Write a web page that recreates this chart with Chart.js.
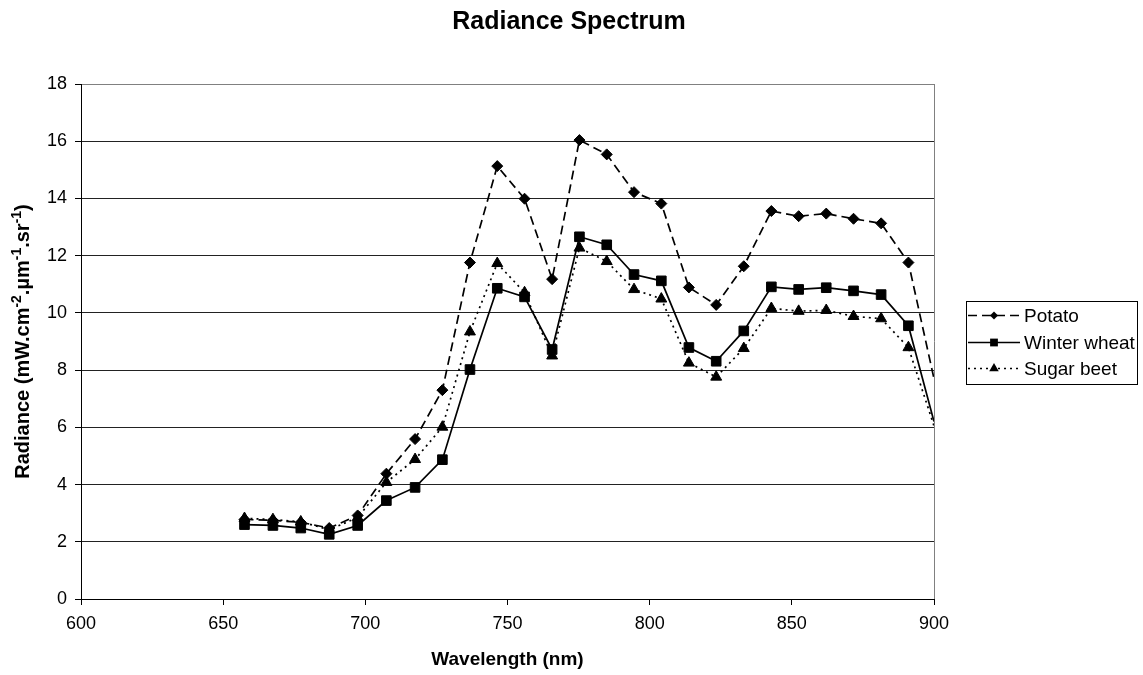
<!DOCTYPE html>
<html>
<head>
<meta charset="utf-8">
<title>Radiance Spectrum</title>
<script src="https://cdn.jsdelivr.net/npm/chart.js@4/dist/chart.umd.min.js"></script>
<style>
  html,body{margin:0;padding:0;background:#fff;}
  #wrap{width:1143px;height:675px;position:relative;}
</style>
</head>
<body>
<div id="wrap"><canvas id="spec"></canvas></div>
<script>
/* ---- data ---- */
const wavelengths = [657.5, 667.5, 677.3, 687.3, 697.3, 707.4, 717.5, 727.1, 736.8, 746.4, 756.0, 765.7, 775.3,
                     784.9, 794.5, 804.1, 813.8, 823.4, 833.1, 842.8, 852.4, 862.1, 871.7, 881.4, 891.0, 900.0];
const potato      = [2.78, 2.75, 2.68, 2.48, 2.92, 4.38, 5.59, 7.30, 11.76, 15.13, 13.99, 11.18, 16.04,
                     15.54, 14.22, 13.82, 10.89, 10.28, 11.63, 13.56, 13.38, 13.47, 13.29, 13.13, 11.76, 7.7];
const winterWheat = [2.60, 2.57, 2.48, 2.26, 2.57, 3.44, 3.90, 4.87, 8.02, 10.86, 10.56, 8.72, 12.66,
                     12.38, 11.34, 11.12, 8.79, 8.31, 9.37, 10.91, 10.82, 10.88, 10.77, 10.64, 9.55, 6.2];
const sugarBeet   = [2.82, 2.78, 2.70, 2.42, 2.85, 4.08, 4.88, 6.01, 9.34, 11.73, 10.71, 8.50, 12.27,
                     11.80, 10.82, 10.49, 8.25, 7.76, 8.76, 10.16, 10.06, 10.09, 9.88, 9.80, 8.79, 6.05];
const seriesNames = ['Potato', 'Winter wheat', 'Sugar beet'];
const xRange = [600, 900, 50];   // min, max, step
const yRange = [0, 18, 2];

const FONT = "'Liberation Sans', Arial, Helvetica, sans-serif";
Chart.defaults.font.family = FONT;
Chart.defaults.color = '#000';

const pts = arr => wavelengths.map((w,i)=>({x:w, y:arr[i]}));
const lastHidden = r => ctx => ctx.dataIndex === wavelengths.length-1 ? 0 : r;

function marker(c, style, x, y, r){
  c.beginPath();
  if(style==='rectRot'){ c.moveTo(x-r,y); c.lineTo(x,y-r); c.lineTo(x+r,y); c.lineTo(x,y+r); }
  else if(style==='rect'){ const s=r*Math.SQRT1_2; c.rect(x-s,y-s,2*s,2*s); }
  else { c.moveTo(x,y-r); c.lineTo(x+r*0.866,y+r*0.5); c.lineTo(x-r*0.866,y+r*0.5); }
  c.closePath(); c.fill();
}

/* chart title, centred on the whole picture like the original */
const topTitle = {
  id:'topTitle',
  afterDraw(chart){
    const c = chart.ctx;
    c.save();
    c.font = 'bold 25px ' + FONT; c.fillStyle = '#000';
    c.textAlign = 'center'; c.textBaseline = 'middle';
    c.fillText('Radiance Spectrum', 569, 22);
    c.restore();
  }
};

/* legend box on the right, line sample + marker + name */
const boxLegend = {
  id:'boxLegend',
  afterDraw(chart){
    const c = chart.ctx, x0 = 966, y0 = 301, w = 171, h = 83;
    c.save();
    c.strokeStyle = '#000'; c.lineWidth = 1;
    c.strokeRect(x0+0.5, y0+0.5, w, h);
    chart.data.datasets.forEach((ds,i)=>{
      const cy = Math.round(y0 + 14 + i*26.7) + 0.5;
      c.strokeStyle = '#000'; c.fillStyle = '#000';
      c.lineWidth = ds.borderWidth;
      c.setLineDash(ds.borderDash || []);
      c.beginPath(); c.moveTo(x0+2, cy); c.lineTo(x0+54, cy); c.stroke();
      c.setLineDash([]);
      marker(c, ds.pointStyle, x0+28, cy, ds.legendR);
      c.font = '19px ' + FONT; c.textBaseline = 'middle'; c.textAlign = 'left';
      c.fillText(ds.label, x0+58, cy+1);
    });
    c.restore();
  }
};

/* rotated y title with superscripts */
const yTitle = {
  id:'yTitle',
  afterDraw(chart){
    const c = chart.ctx, a = chart.chartArea;
    const parts = [['Radiance (mW.cm',0],['-2',1],['.\u00b5m',0],['-1',1],['.sr',0],['-1',1],[')',0]];
    const big = 'bold 20px ' + FONT, small = 'bold 14px ' + FONT;
    c.save();
    let total = 0;
    parts.forEach(([t,s])=>{ c.font = s?small:big; total += c.measureText(t).width; });
    c.translate(23, (a.top+a.bottom)/2);
    c.rotate(-Math.PI/2);
    c.fillStyle = '#000'; c.textBaseline = 'middle'; c.textAlign = 'left';
    let x = -total/2;
    parts.forEach(([t,s])=>{
      c.font = s?small:big;
      c.fillText(t, x, s ? -6 : 0);
      x += c.measureText(t).width;
    });
    c.restore();
  }
};

new Chart(document.getElementById('spec'), {
  type:'line',
  data:{
    datasets:[
      {label:seriesNames[0], data:pts(potato), borderColor:'#000', backgroundColor:'#000', borderWidth:1.7,
       borderDash:[9,5], pointStyle:'rectRot', pointRadius:lastHidden(5.5), legendR:4,
       pointBackgroundColor:'#000', pointBorderColor:'#000', pointBorderWidth:1},
      {label:seriesNames[1], data:pts(winterWheat), borderColor:'#000', backgroundColor:'#000', borderWidth:1.7,
       pointStyle:'rect', pointRadius:lastHidden(6.8), legendR:5.5,
       pointBackgroundColor:'#000', pointBorderColor:'#000', pointBorderWidth:1},
      {label:seriesNames[2], data:pts(sugarBeet), borderColor:'#000', backgroundColor:'#000', borderWidth:1.7,
       borderDash:[2,4], pointStyle:'triangle', pointRadius:lastHidden(6.3), legendR:5.5,
       pointBackgroundColor:'#000', pointBorderColor:'#000', pointBorderWidth:1}
    ]
  },
  options:{
    responsive:true, maintainAspectRatio:false, animation:false,
    layout:{padding:{left:0, right:209, top:84, bottom:0}},
    plugins:{
      legend:{display:false},
      tooltip:{enabled:false},
      title:{display:false}
    },
    scales:{
      x:{
        type:'linear', min:xRange[0], max:xRange[1],
        afterFit: s => { s.height = 76; },
        ticks:{stepSize:xRange[2], font:{size:18}, color:'#000', padding:8, maxRotation:0},
        grid:{drawOnChartArea:true, tickLength:6, tickColor:'#000',
              color: ctx => ctx.tick && ctx.tick.value === xRange[1] ? '#808080' : 'rgba(0,0,0,0)'},
        border:{display:true, color:'#000', width:1},
        title:{display:true, text:'Wavelength (nm)', font:{size:19, weight:'bold'}, color:'#000',
               padding:{top:0, bottom:4}}
      },
      y:{
        min:yRange[0], max:yRange[1],
        afterFit: s => { s.width = 81; },
        ticks:{stepSize:yRange[2], font:{size:18}, color:'#000', padding:8},
        grid:{tickLength:6, tickColor:'#000',
              color: ctx => ctx.tick && ctx.tick.value === yRange[1] ? '#808080' : '#222'},
        border:{display:true, color:'#000', width:1}
      }
    }
  },
  plugins:[topTitle, boxLegend, yTitle]
});
</script>
</body>
</html>
